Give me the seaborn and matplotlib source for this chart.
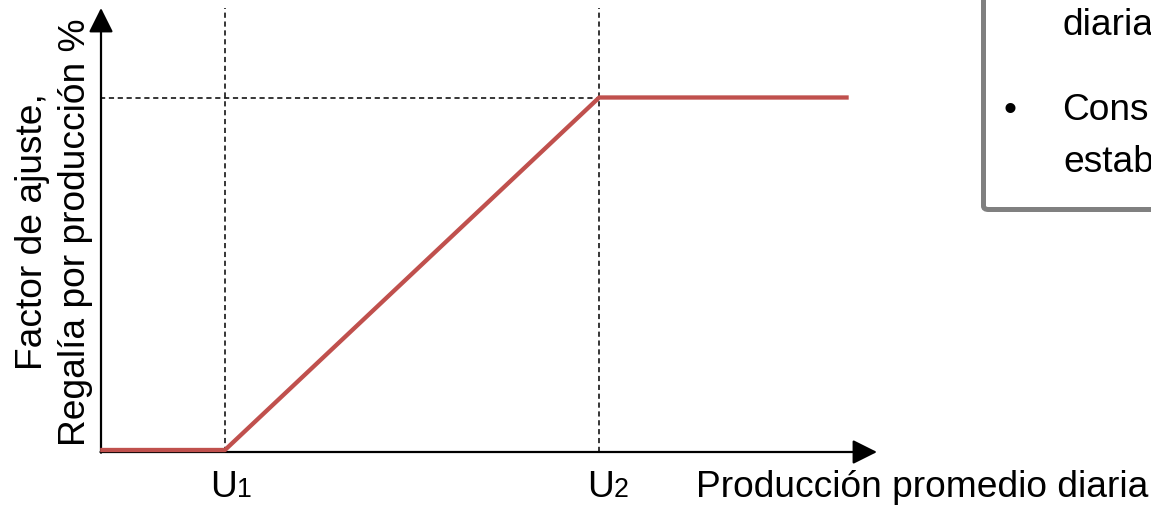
import matplotlib
matplotlib.use("Agg")
import matplotlib.pyplot as plt
import matplotlib.patches as mpatches
import seaborn as sns
import pandas as pd

# ---- data ----
production = [0, 25, 100, 150]          # Producción promedio diaria (arbitrary units)
factor = [0, 0, 100, 100]               # Factor de ajuste, regalía %
thresholds = [25, 100]                  # U1, U2
threshold_labels = ["U", "U"]
threshold_subs = ["1", "2"]
x_label = "Producción promedio diaria"
y_label_lines = ["Factor de ajuste,", "Regalía por producción %"]
box_lines = ["diaria", "Cons", "estab"]

RED = "#C0504D"
W, H = 1151, 505
FS = 26.7

sns.set_style("white")
plt.rcParams["font.family"] = ["Liberation Sans", "DejaVu Sans"]
plt.rcParams["text.color"] = "black"

fig = plt.figure(figsize=(W / 100, H / 100), dpi=100)
ax = fig.add_axes([0, 0, 1, 1])

# pixel layout helpers (layout only)
X0, SX = 100.2, 4.99
Y0, SY = 450.0, 3.525


def px(x, y):
    return ((x - X0) / SX, (Y0 - y) / SY)


df = pd.DataFrame({"prod": production, "factor": factor})

# dashed guides
top_y = px(0, 8)[1]
axis_y = px(0, 452)[1]
DASH = (0, (3.4, 2.4))
for t in thresholds:
    ax.plot([t, t], [axis_y, top_y], color="black", lw=1.1,
            linestyle=DASH, zorder=1)
ax.plot([0, thresholds[1]], [max(factor), max(factor)], color="black", lw=1.1,
        linestyle=DASH, zorder=1)

# axes arrows
ax_x0 = px(101, 0)[0]
ax.annotate("", xy=(px(877, 0)[0], axis_y), xytext=(ax_x0 - 0.1, axis_y),
            arrowprops=dict(arrowstyle="-|>,head_length=0.5,head_width=0.25",
                            mutation_scale=30, lw=1.6, color="black",
                            shrinkA=0, shrinkB=0), zorder=2)
ax.annotate("", xy=(ax_x0, top_y), xytext=(ax_x0, axis_y - 0.2),
            arrowprops=dict(arrowstyle="-|>,head_length=0.5,head_width=0.25",
                            mutation_scale=30, lw=1.6, color="black",
                            shrinkA=0, shrinkB=0), zorder=2)

# main curve
sns.lineplot(data=df, x="prod", y="factor", ax=ax, color=RED, lw=3.1,
             solid_capstyle="butt", zorder=3)
ax.set_xlim(px(0, 0)[0], px(W, 0)[0])
ax.set_ylim(px(0, H)[1], px(0, 0)[1])
ax.axis("off")

# threshold labels
label_left = [210, 587]
for lx, lab, sub in zip(label_left, threshold_labels, threshold_subs):
    xx, yy = px(lx, 497)
    ax.text(xx, yy, lab, fontsize=FS, ha="left", va="baseline", color="black")
    xx2, _ = px(lx + 27, 497)
    ax.text(xx2, yy, sub, fontsize=FS * 0.72, ha="left", va="baseline", color="black")

# x label
xx, yy = px(696, 497)
ax.text(xx, yy, x_label, fontsize=FS, ha="left", va="baseline", color="black")

# y label (two rotated lines)
for bx, line in zip([42, 85], y_label_lines):
    xx, yy = px(bx, 232)
    ax.text(xx, yy, line, fontsize=FS, rotation=90, rotation_mode="anchor",
            ha="center", va="baseline", color="black")

# box on the right
bx0, by0 = px(983.5, 209.5)
bx1, by1 = px(1250, -50)
rect = mpatches.FancyBboxPatch((bx0, by0), bx1 - bx0, by1 - by0,
                               boxstyle="round,pad=0,rounding_size=1.0",
                               facecolor="white", edgecolor="#808080", lw=3.6,
                               zorder=0, clip_on=False)
ax.add_patch(rect)
for (tx, ty), txt in zip([(1063, 35), (1062, 120), (1063, 172)], box_lines):
    xx, yy = px(tx, ty)
    ax.text(xx, yy, txt, fontsize=FS, ha="left", va="baseline", color="black")
xx, yy = px(1003, 120)
ax.text(xx, yy, "•", fontsize=FS, ha="left", va="baseline", color="black")

fig.savefig("out.png", dpi=100)
